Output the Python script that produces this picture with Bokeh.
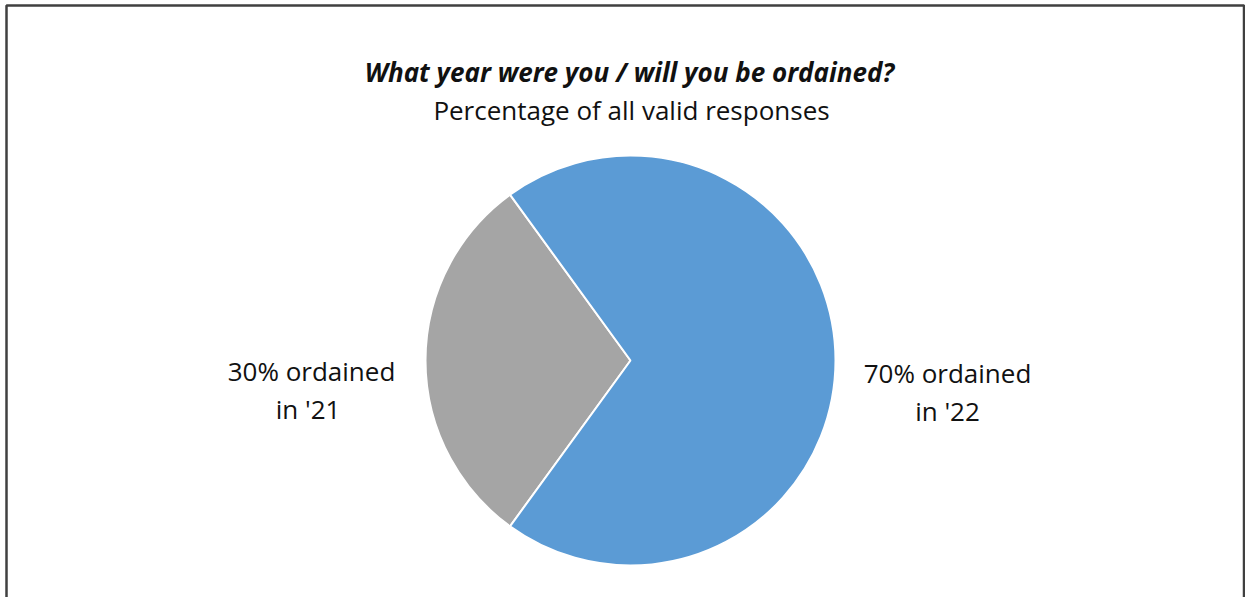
import math
from bokeh.plotting import figure
from bokeh.models import Range1d
from bokeh.core.properties import value
from bokeh.embed import file_html
from bokeh.resources import INLINE

# Data
categories = ["ordained in '21", "ordained in '22"]
shares = [30, 70]
colors = ["#A5A5A5", "#5B9BD5"]
label_lines = [["30% ordained", "in  '21"], ["70% ordained", "in '22"]]
title = "What year were you / will you be ordained?"
subtitle = "Percentage of all valid responses"

W, H = 1245, 597
p = figure(width=W, height=H, output_backend="svg", toolbar_location=None,
           x_range=Range1d(0, W), y_range=Range1d(0, H),
           min_border=0, outline_line_color=None)
p.axis.visible = False
p.grid.visible = False
p.background_fill_color = "white"

def Y(img_y):
    return H - img_y

# border (left, top, right)
p.line([6, 6, 1243.5, 1243.5], [Y(640), Y(5), Y(5), Y(640)], line_color="#404040", line_width=2.5)

# pie
cx, cy, r = 630, Y(360), 205
total = sum(shares)
start = math.pi - math.pi * shares[0] / total
angles = []
a = start
for s in shares:
    span = 2 * math.pi * s / total
    angles.append((a, a + span))
    a += span
for (a0, a1), c in zip(angles, colors):
    p.wedge(x=cx, y=cy, radius=r, start_angle=a0, end_angle=a1, fill_color=c,
            line_color="white", line_width=2)

font = value("Open Sans")
p.text(x=[629], y=[Y(71)], text=[title], text_font=font, text_font_style="bold italic",
       text_font_size="26px", text_align="center", text_baseline="middle", text_color="#111111")
p.text(x=[631], y=[Y(109)], text=[subtitle], text_font=font, text_font_size="26px",
       text_align="center", text_baseline="middle", text_color="#111111")

label_x = [311, 947]
label_y = [Y(370), Y(372)]
for lx, ly, lines in zip(label_x, label_y, label_lines):
    for i, t in enumerate(lines):
        p.text(x=[lx], y=[ly - i * 38], text=[t], text_font=font, text_font_size="26px",
               text_align="center", text_baseline="middle", text_color="#111111")

open("out.html", "w").write(file_html(p, INLINE))
